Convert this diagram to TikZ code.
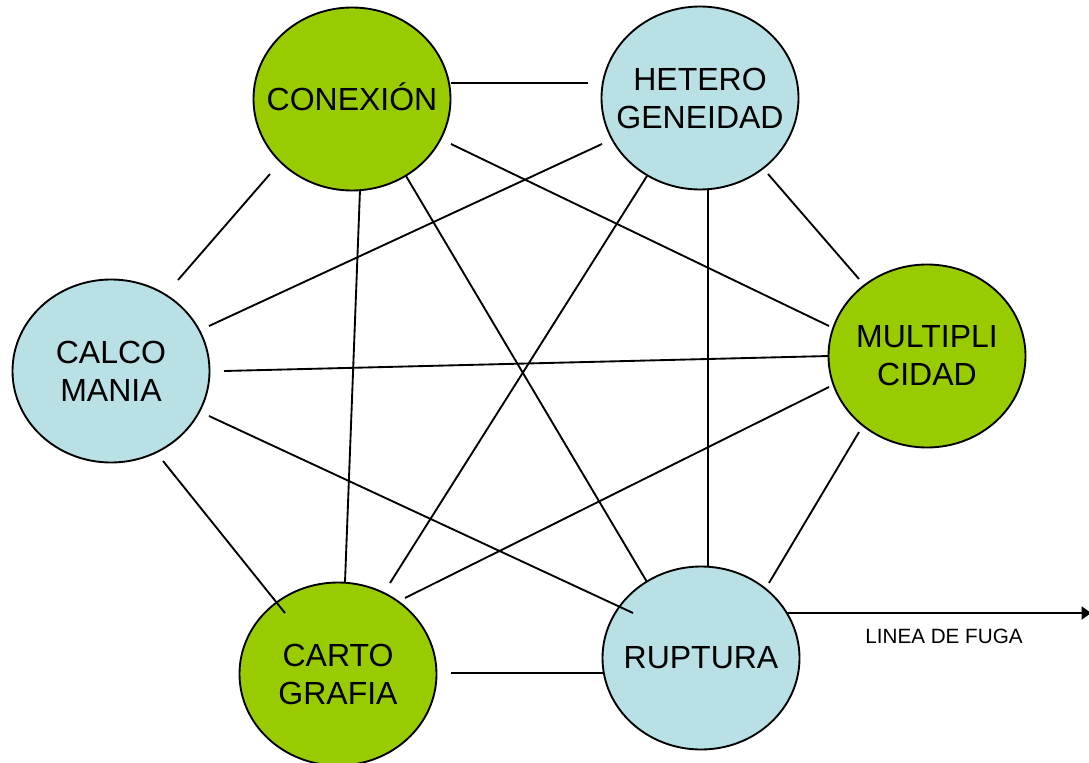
\documentclass[tikz,border=0pt]{standalone}
\usepackage{fontspec}
\setmainfont{Liberation Sans}
\usetikzlibrary{shapes.geometric,calc,arrows.meta}
\definecolor{leaf}{RGB}{153,204,0}
\definecolor{ice}{RGB}{185,224,228}
\tikzset{
  bubble/.style={ellipse, draw=black, line width=1.4pt, inner sep=0pt,
    minimum width=147.75pt, minimum height=137.25pt},
  bubbletext/.style={align=center, inner sep=0pt,
    font=\fontsize{24pt}{28.5pt}\selectfont},
  greenbubble/.style={bubble, fill=leaf},
  bluebubble/.style={bubble, fill=ice},
  link/.style={line width=1.4pt, draw=black},
}
\begin{document}
\begin{tikzpicture}[x=0.75pt, y=-0.75pt]
\useasboundingbox (0,0) rectangle (1089,763);

% concepts: fixed-size ellipses with their words centred inside
\node[greenbubble, label={[bubbletext]center:CONEXI\smash{Ó}N}] (con) at (352,99) {};
\node[bluebubble,  label={[bubbletext]center:HETERO\\GENEIDAD}] (het) at (700,98) {};
\node[bluebubble,  label={[bubbletext]center:CALCO\\MANIA}] (cal) at (111,371) {};
\node[greenbubble, label={[bubbletext]center:MULTIPLI\\CIDAD}] (mul) at (927,356) {};
\node[greenbubble, label={[bubbletext]center:CARTO\\GRAFIA}] (car) at (338,674) {};
\node[bluebubble,  label={[bubbletext]center:RUPTURA}] (rup) at (701,658) {};

% every concept linked to every other one
\draw[link] ($(con)+(99,-16)$) -- ($(het)+(-112,-15)$);
\draw[link] ($(con)+(-82,75)$) -- ($(cal)+(67,-91)$);
\draw[link] ($(con)+(8,91)$)   -- ($(car)+(7,-92)$);
\draw[link] ($(con)+(54,77)$)  -- ($(rup)+(-54,-76)$);
\draw[link] ($(con)+(99,45)$)  -- ($(mul)+(-98,-30)$);
\draw[link] ($(het)+(-98,46)$) -- ($(cal)+(98,-45)$);
\draw[link] ($(het)+(-53,78)$) -- ($(car)+(52,-91)$);
\draw[link] ($(het)+(8,92)$)   -- ($(rup)+(7,-91)$);
\draw[link] ($(het)+(68,76)$)  -- ($(mul)+(-68,-77)$);
\draw[link] ($(cal)+(113,0)$)  -- ($(mul)+(-98,0)$);
\draw[link] ($(cal)+(98,45)$)  -- ($(rup)+(-68,-45)$);
\draw[link] ($(cal)+(52,90)$)  -- ($(car)+(-53,-61)$);
\draw[link] ($(mul)+(-98,31)$) -- ($(car)+(67,-76)$);
\draw[link] ($(mul)+(-68,76)$) -- ($(rup)+(68,-75)$);
\draw[link] ($(car)+(113,-1)$) -- ($(rup)+(-98,15)$);

% line of flight
\coordinate (fuga) at (1091,613);
\draw[link, -{Triangle[length=7pt,width=9.75pt]}] ($(rup)+(85,-45)$) -- (fuga);
\node[font=\fontsize{15.5pt}{18pt}\selectfont] (fugalabel) at (944,636) {LINEA DE FUGA};
\end{tikzpicture}
\end{document}
